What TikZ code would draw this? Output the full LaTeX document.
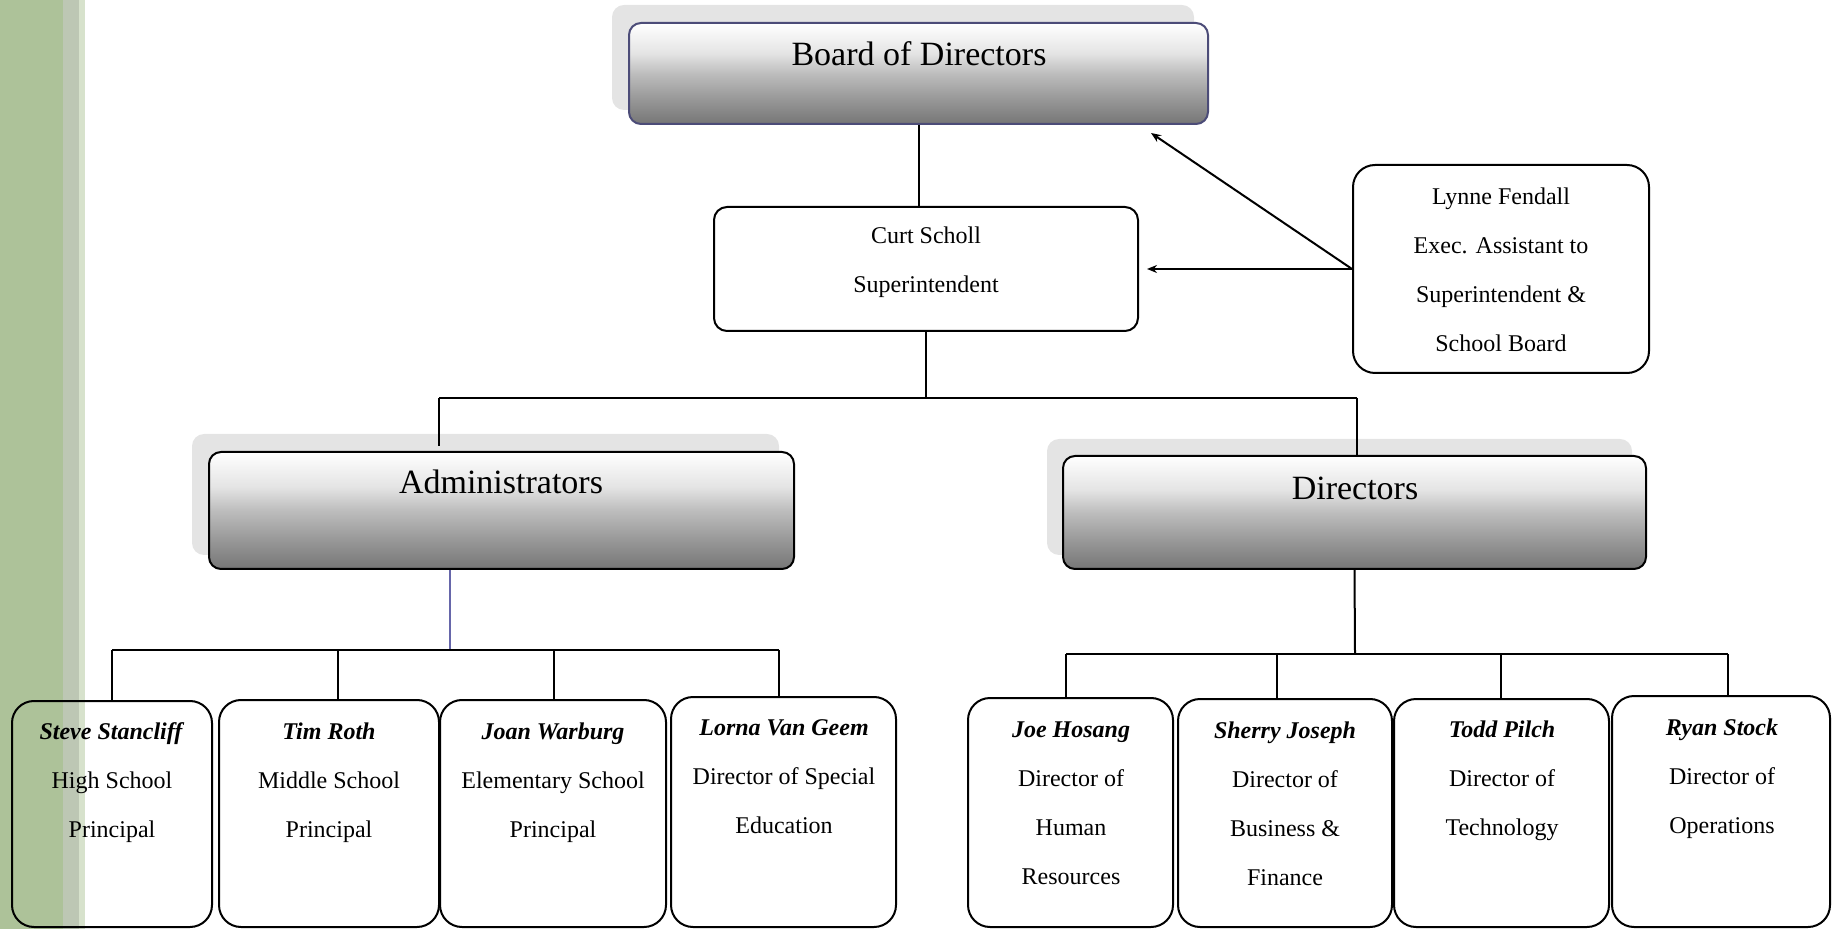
\documentclass[tikz,border=0pt]{standalone}
\usepackage{fontspec}
\setmainfont{Liberation Serif}
\usetikzlibrary{fit,arrows.meta}
\definecolor{g0}{HTML}{767676}
\definecolor{g1}{HTML}{989898}
\definecolor{g2}{HTML}{BDBDBD}
\definecolor{g3}{HTML}{E4E4E4}
\definecolor{g4}{HTML}{F6F6F6}
\definecolor{shadowgray}{HTML}{E4E4E4}
\definecolor{boardblue}{HTML}{4C4C78}
\definecolor{busblue}{HTML}{6666AA}
\definecolor{stripA}{HTML}{ADC299}
\definecolor{stripB}{HTML}{BDC7B4}
\definecolor{stripC}{HTML}{D7E2CC}
\pgfdeclareverticalshading{gboxshade}{100bp}{color(0bp)=(g0); color(25bp)=(g0); color(37.5bp)=(g1); color(50bp)=(g2); color(60bp)=(g3); color(70bp)=(g4); color(75bp)=(white); color(100bp)=(white)}
\newcommand\tstr{\rule{0pt}{9pt}}
\begin{document}
\begin{tikzpicture}[x=0.5pt,y=-0.5pt,
  shadowbox/.style={fill=shadowgray, draw=none, rounded corners=6pt, inner sep=0pt},
  headbox/.style={shading=gboxshade, draw=black, line width=1pt, rounded corners=6pt, inner sep=0pt},
  wbox/.style={draw=black, line width=1pt, rounded corners=6.5pt, inner sep=0pt},
  pbox/.style={draw=black, line width=1pt, rounded corners=11pt, inner sep=0pt},
  head/.style={font=\fontsize{17}{20}\selectfont, inner sep=0pt, anchor=base},
  txt/.style={font=\fontsize{12}{24.5}\selectfont, align=center, inner sep=0pt, anchor=north},
  conn/.style={draw=black, line width=1pt},
  arr/.style={draw=black, line width=1pt, -{Stealth[length=5pt,width=4pt]}}]
\useasboundingbox (0,0) rectangle (1834,929);
% left strip
\fill[stripA] (0,0) rectangle (63,929);
\fill[stripB] (63,0) rectangle (79,929);
\fill[stripC] (79,0) rectangle (85,929);
% shadows
\node[shadowbox, fit={(612,5)(1194,110)}] (boardS) {};
\node[shadowbox, fit={(192,434)(779,555)}] (adminS) {};
\node[shadowbox, fit={(1047,439)(1632,555)}] (dirsS) {};
% top level
\node[headbox, draw=boardblue, fit={(629,23)(1208,124)}] (board) {};
\node[head] (boardT) at (919,66) {Board of Directors};
\node[wbox, fit={(714,207)(1138,331)}] (curt) {};
\node[txt] (curtT) at (926,225) {\tstr Curt Scholl\\Superintendent};
\node[pbox, fit={(1353,165)(1649,373)}] (lynne) {};
\node[txt] (lynneT) at (1501,186) {\tstr Lynne Fendall\\Exec. Assistant to\\Superintendent \&\\School Board};
% connectors top
\coordinate (tL) at (439,398);
\coordinate (tR) at (1357,398);
\coordinate (aIn) at (439,446);
\coordinate (bArr) at (1151,133);
\draw[conn] (board.south) -- (board.south |- curt.north);
\draw[conn] (curt.south) -- (curt.south |- tL);
\draw[conn] (tL) -- (tR);
\draw[conn] (tL) -- (aIn);
\draw[arr] (lynne.west) -- (bArr);
\draw[arr, shorten >=4pt] (lynne.west) -- (curt.east);
% second level
\node[headbox, fit={(209,452)(794,569)}] (admin) {};
\node[head] (adminT) at (501,494) {Administrators};
\node[headbox, fit={(1063,456)(1646,569)}] (dirs) {};
\node[head] (dirsT) at (1355,500) {Directors};
\draw[conn] (tR) -- (tR |- dirs.north);
% bottom boxes
\node[pbox, fit={(12,701)(212,927)}] (steve) {};
\node[pbox, fit={(219,700)(439,927)}] (tim) {};
\node[pbox, fit={(440,700)(666,927)}] (joan) {};
\node[pbox, fit={(671,697)(896,927)}] (lorna) {};
\node[pbox, fit={(968,698)(1173,927)}] (joe) {};
\node[pbox, fit={(1178,699)(1392,927)}] (sherry) {};
\node[pbox, fit={(1394,699)(1609,927)}] (todd) {};
\node[pbox, fit={(1612,696)(1830,927)}] (ryan) {};
\node[txt] (steveT) at (112,721) {\tstr\textbf{\textit{Steve Stancliff}}\\High School\\Principal};
\node[txt] (timT) at (329,721) {\tstr\textbf{\textit{Tim Roth}}\\Middle School\\Principal};
\node[txt] (joanT) at (553,721) {\tstr\textbf{\textit{Joan Warburg}}\\Elementary School\\Principal};
\node[txt] (lornaT) at (784,717) {\tstr\textbf{\textit{Lorna Van Geem}}\\Director of Special\\Education};
\node[txt] (joeT) at (1071,719) {\tstr\textbf{\textit{Joe Hosang}}\\Director of\\Human\\Resources};
\node[txt] (sherryT) at (1285,720) {\tstr\textbf{\textit{Sherry Joseph}}\\Director of\\Business \&\\Finance};
\node[txt] (toddT) at (1502,719) {\tstr\textbf{\textit{Todd Pilch}}\\Director of\\Technology};
\node[txt] (ryanT) at (1722,717) {\tstr\textbf{\textit{Ryan Stock}}\\Director of\\Operations};
% administrators bus
\coordinate (aBus) at (450,650);
\coordinate (b1) at (112,650);
\coordinate (b2) at (338,650);
\coordinate (b3) at (554,650);
\coordinate (b4) at (779,650);
\draw[draw=busblue, line width=0.8pt] (aBus |- admin.south) -- (aBus);
\draw[conn] (b1) -- (b4);
\draw[conn] (b1) -- (b1 |- steve.north);
\draw[conn] (b2) -- (b2 |- tim.north);
\draw[conn] (b3) -- (b3 |- joan.north);
\draw[conn] (b4) -- (b4 |- lorna.north);
% directors bus
\coordinate (dBus) at (1355,654);
\coordinate (c1) at (1066,654);
\coordinate (c2) at (1277,654);
\coordinate (c3) at (1501,654);
\coordinate (c4) at (1728,654);
\draw[conn] (dirs.south) -- (dBus);
\draw[conn] (c1) -- (c4);
\draw[conn] (c1) -- (c1 |- joe.north);
\draw[conn] (c2) -- (c2 |- sherry.north);
\draw[conn] (c3) -- (c3 |- todd.north);
\draw[conn] (c4) -- (c4 |- ryan.north);
\end{tikzpicture}
\end{document}
